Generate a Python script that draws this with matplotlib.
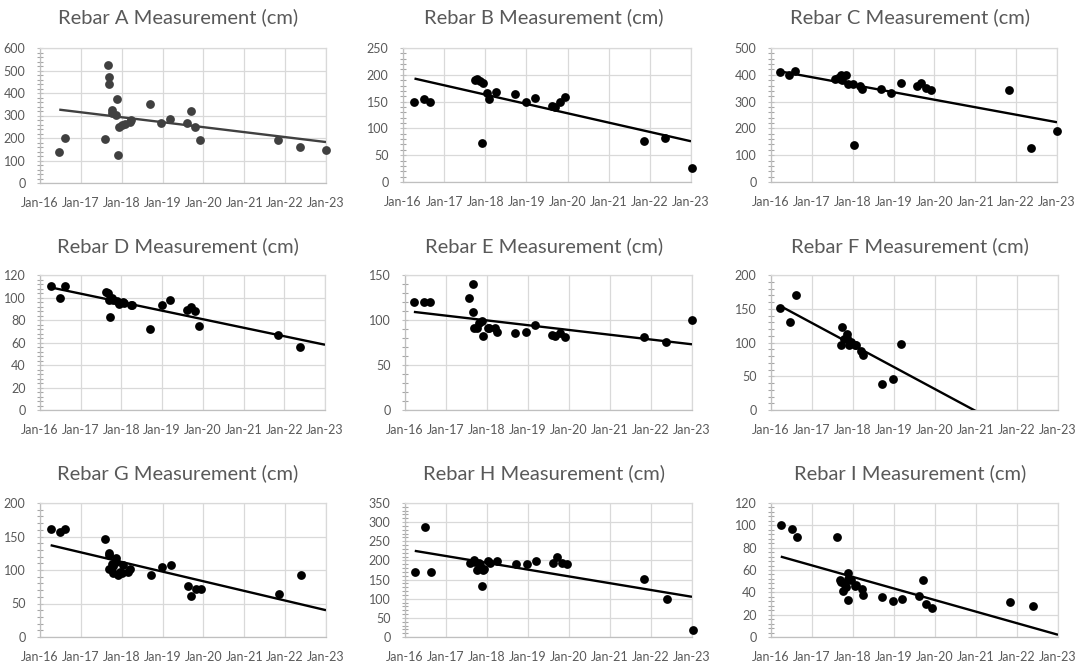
import matplotlib
matplotlib.use("Agg")
import matplotlib.pyplot as plt
import matplotlib.dates as mdates
from matplotlib.ticker import AutoMinorLocator, MultipleLocator
import pandas as pd

plt.rcParams['font.family'] = ['Lato', 'DejaVu Sans']

# ---------------- data ----------------
names = ['A', 'B', 'C', 'D', 'E', 'F', 'G', 'H', 'I']

A_dates = ['2016-06-21','2016-08-11','2017-07-31','2017-09-02','2017-09-06','2017-09-12','2017-10-04','2017-10-10',
           '2017-11-16','2017-11-12','2017-12-08','2017-11-25','2018-01-01','2018-02-01','2018-03-15','2018-03-28',
           '2018-09-13','2018-12-20','2019-03-11','2019-08-04','2019-09-10','2019-10-16','2019-12-02','2021-10-27',
           '2022-05-12','2023-01-01']
A_vals = [138,200,194,524,471,441,326,310,375,301,250,126,256,262,271,282,350,267,284,267,320,249,193,190,159,148]

B_dates = ['2016-04-12','2016-07-06','2016-08-26','2017-10-04','2017-10-18','2017-11-16','2017-12-15','2017-12-01',
           '2018-01-19','2018-02-02','2018-04-08','2018-09-24','2019-01-01','2019-03-15','2019-08-15','2019-09-13',
           '2019-10-23','2019-12-13','2021-11-07','2022-05-19','2023-01-08']
B_vals = [150,154,150,190,192,188,185,73,166,155,168,165,150,157,142,140,150,159,77,83,26]

C_dates = ['2016-03-20','2016-06-14','2016-08-04','2017-07-27','2017-08-18','2017-09-20','2017-09-30','2017-11-05',
           '2017-11-16','2017-12-31','2018-01-15','2018-03-10','2018-03-25','2018-09-09','2018-12-13','2019-03-04',
           '2019-07-28','2019-09-06','2019-10-16','2019-12-02','2021-10-27','2022-05-16','2023-01-01']
C_vals = [410,398,413,383,389,398,379,398,364,364,137,358,346,347,332,369,357,369,351,345,342,127,189]

D_dates = ['2016-04-05','2016-06-28','2016-08-15','2017-08-11','2017-09-05','2017-09-12','2017-09-16','2017-10-04',
           '2017-10-18','2017-11-24','2017-12-08','2018-01-12','2018-01-25','2018-03-25','2018-04-01','2018-09-16',
           '2018-12-28','2019-03-11','2019-08-08','2019-09-13','2019-10-20','2019-12-02','2021-11-03','2022-05-23']
D_vals = [110,100,110,105,104,98,83,100,98,97,94,96,95,93,93,72,93,98,89,92,88,75,67,56]

E_dates = ['2016-03-20','2016-06-18','2016-08-08','2017-07-27','2017-08-29','2017-09-02','2017-09-05','2017-09-30',
           '2017-10-22','2017-11-13','2017-11-27','2018-01-08','2018-01-20','2018-03-14','2018-03-28','2018-09-09',
           '2018-12-13','2019-03-04','2019-08-01','2019-08-30','2019-10-16','2019-11-29','2021-10-27','2022-05-12',
           '2023-01-01']
E_vals = [120,120,120,124,140,109,91,91,97,99,82,91,91,91,87,86,87,95,83,82,86,81,81,76,100]

F_dates = ['2016-03-25','2016-06-21','2016-08-11','2017-09-23','2017-09-20','2017-10-15','2017-11-09','2017-11-12',
           '2017-11-27','2017-12-10','2018-01-19','2018-01-26','2018-03-14','2018-03-28','2018-09-13','2018-12-20',
           '2019-03-07']
F_vals = [151,130,170,123,96,105,113,106,96,101,97,96,88,82,39,46,98]

G_dates = ['2016-04-05','2016-06-28','2016-08-15','2017-08-07','2017-09-05','2017-09-10','2017-09-12','2017-10-04',
           '2017-10-11','2017-10-18','2017-11-09','2017-11-14','2017-12-01','2017-12-15','2017-12-31','2018-01-12',
           '2018-02-28','2018-03-14','2018-09-16','2018-12-24','2019-03-15','2019-08-12','2019-09-13','2019-10-23',
           '2019-12-10','2021-11-07','2022-05-23']
G_vals = [161,156,161,146,125,122,102,109,96,106,118,112,92,97,95,108,97,102,92,104,108,76,61,72,71,64,93]

H_dates = ['2016-03-28','2016-06-25','2016-08-19','2017-07-31','2017-09-05','2017-09-20','2017-10-04','2017-10-18',
           '2017-11-01','2017-11-16','2017-11-28','2017-12-05','2018-01-12','2018-01-25','2018-04-01','2018-09-16',
           '2018-12-24','2019-03-15','2019-08-12','2019-09-13','2019-10-27','2019-12-10','2021-11-03','2022-05-19',
           '2023-01-08']
H_vals = [170,288,170,193,202,196,174,192,188,132,174,178,199,192,199,190,190,199,194,209,194,190,152,100,19]

I_dates = ['2016-03-28','2016-07-02','2016-08-19','2017-08-07','2017-09-05','2017-09-20','2017-09-30','2017-10-20',
           '2017-11-02','2017-11-16','2017-11-20','2017-11-16','2017-12-15','2018-01-19','2018-01-25','2018-03-18',
           '2018-04-01','2018-09-16','2018-12-24','2019-03-11','2019-08-08','2019-09-13','2019-10-16','2019-12-02',
           '2021-11-03','2022-05-19']
I_vals = [100,97,90,90,51,49,41,47,45,57,52,33,51,46,47,43,38,36,32,34,37,51,30,26,31,28]

all_dates = [A_dates, B_dates, C_dates, D_dates, E_dates, F_dates, G_dates, H_dates, I_dates]
all_vals = [A_vals, B_vals, C_vals, D_vals, E_vals, F_vals, G_vals, H_vals, I_vals]

# linear trendline values (at first measurement date and at Jan-23)
trend_start = [326, 193, 413, 109, 109, 154, 137, 225, 72]
trend_end = [182, 76, 223, 58, 73, -67, 40, 105, 2]
trend_end_date = '2023-01-01'

y_max = [600, 250, 500, 120, 150, 200, 200, 350, 120]
y_step = [100, 50, 100, 20, 50, 50, 50, 50, 20]
year_ticks = ['2016-01-01','2017-01-01','2018-01-01','2019-01-01','2020-01-01','2021-01-01','2022-01-01','2023-01-01']

# ---------------- layout (pixels) ----------------
W, H = 1085, 663
boxes = [(40, 326, 48, 183), (403, 691, 48, 182), (771, 1057, 48, 182),
         (40, 325, 275, 410), (405, 692, 275, 410), (771, 1058, 275, 410),
         (40, 326, 503, 637), (405, 692, 503, 637), (771, 1058, 503, 637)]
title_x = [178, 544, 910]
title_y = [17, 246, 473]

text_col = '#595959'
grid_col = '#d9d9d9'
axis_col = '#bfbfbf'

fig = plt.figure(figsize=(W / 100, H / 100), dpi=100)

for i, name in enumerate(names):
    L, R, T, B = boxes[i]
    ax = fig.add_axes([L / W, 1 - B / H, (R - L) / W, (B - T) / H])
    d = pd.to_datetime(all_dates[i])
    v = all_vals[i]
    col = '#404040' if name == 'A' else '#000000'
    ax.scatter(d, v, s=40, color=col, zorder=3, clip_on=False, linewidths=0)
    td = pd.to_datetime([all_dates[i][0], trend_end_date])
    ax.plot(td, [trend_start[i], trend_end[i]], color=col, lw=1.7, zorder=4,
            solid_capstyle='butt')

    ax.set_xlim(pd.Timestamp(year_ticks[0]), pd.Timestamp(year_ticks[-1]))
    ax.set_xticks(pd.to_datetime(year_ticks))
    ax.xaxis.set_major_formatter(mdates.DateFormatter('%b-%y'))
    ax.set_ylim(0, y_max[i])
    ax.yaxis.set_major_locator(MultipleLocator(y_step[i]))
    ax.yaxis.set_minor_locator(AutoMinorLocator(5))

    ax.grid(True, which='major', color=grid_col, lw=0.9)
    ax.set_axisbelow(True)
    for s in ['top', 'right']:
        ax.spines[s].set_color(grid_col)
        ax.spines[s].set_linewidth(0.9)
    for s in ['left', 'bottom']:
        ax.spines[s].set_color(axis_col)
        ax.spines[s].set_linewidth(0.9)

    ax.tick_params(axis='x', which='major', length=0, pad=10, labelsize=9.0, labelcolor=text_col)
    ax.tick_params(axis='y', which='major', length=4, direction='inout', color=axis_col,
                   pad=8.5, labelsize=9.0, labelcolor=text_col)
    ax.tick_params(axis='y', which='minor', length=4, direction='inout', color='#a6a6a6', width=0.8)

    r, c = divmod(i, 3)
    fig.text(title_x[c] / W, 1 - title_y[r] / H, f'Rebar {name} Measurement (cm)',
             ha='center', va='center', fontsize=14.5, color=text_col)

fig.savefig('out.png', dpi=100, facecolor='white')
